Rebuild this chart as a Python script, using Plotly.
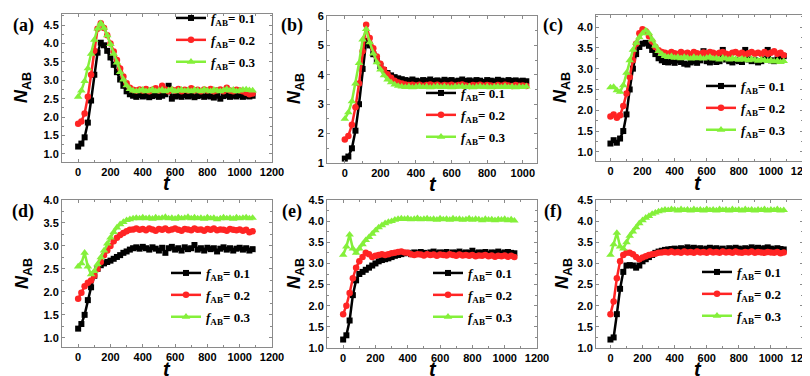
import plotly.graph_objects as go

W, H = 810, 376

# ---------------- data (t step = 20) ----------------
T_A = list(range(0, 1081, 20))   # 55 points
T_B = list(range(0, 1021, 20))   # 52 points
T_C = list(range(0, 1081, 20))
T_D = list(range(0, 1081, 20))
T_E = list(range(0, 1061, 20))   # 54 points
T_F = list(range(0, 1081, 20))

A_01 = [1.20, 1.28, 1.45, 1.85, 2.45, 3.15, 3.75, 4.02, 3.95, 3.80,
        3.62, 3.42, 3.22, 3.02, 2.85, 2.70, 2.62, 2.58, 2.55, 2.60,
        2.56, 2.58, 2.54, 2.57, 2.60, 2.55, 2.58, 2.62, 2.85, 2.50,
        2.56, 2.58, 2.55, 2.60, 2.56, 2.58, 2.54, 2.57, 2.60, 2.55,
        2.58, 2.56, 2.53, 2.58, 2.50, 2.57, 2.60, 2.55, 2.58, 2.56,
        2.60, 2.55, 2.58, 2.56, 2.58]
A_02 = [1.82, 1.88, 2.10, 2.55, 3.15, 3.80, 4.40, 4.55, 4.42, 4.22,
        4.00, 3.78, 3.55, 3.32, 3.10, 2.92, 2.80, 2.74, 2.72, 2.75,
        2.72, 2.76, 2.70, 2.74, 2.78, 2.72, 2.85, 2.75, 2.70, 2.74,
        2.72, 2.76, 2.70, 2.74, 2.72, 2.78, 2.72, 2.74, 2.70, 2.75,
        2.72, 2.76, 2.70, 2.73, 2.75, 2.70, 2.80, 2.72, 2.70, 2.74,
        2.72, 2.70, 2.66, 2.62, 2.64]
A_03 = [2.55, 2.72, 2.98, 3.32, 3.72, 4.10, 4.40, 4.55, 4.42, 4.22,
        3.98, 3.72, 3.48, 3.22, 3.02, 2.86, 2.76, 2.72, 2.70, 2.72,
        2.74, 2.70, 2.72, 2.75, 2.70, 2.72, 2.74, 2.70, 2.73, 2.75,
        2.70, 2.72, 2.74, 2.71, 2.73, 2.70, 2.74, 2.72, 2.70, 2.75,
        2.72, 2.70, 2.74, 2.72, 2.70, 2.73, 2.76, 2.72, 2.74, 2.70,
        2.72, 2.74, 2.75, 2.73, 2.72]

B_01 = [1.15, 1.22, 1.50, 2.10, 3.00, 4.20, 5.15, 5.00, 4.70, 4.48,
        4.30, 4.16, 4.06, 3.98, 3.92, 3.88, 3.85, 3.82, 3.80, 3.84,
        3.80, 3.78, 3.82, 3.80, 3.84, 3.79, 3.81, 3.78, 3.83, 3.80,
        3.82, 3.78, 3.80, 3.84, 3.79, 3.81, 3.78, 3.82, 3.80, 3.76,
        3.82, 3.80, 3.78, 3.83, 3.80, 3.78, 3.82, 3.79, 3.81, 3.78,
        3.80, 3.78]
B_02 = [1.80, 1.92, 2.30, 2.90, 3.70, 4.80, 5.70, 5.25, 4.90, 4.62,
        4.38, 4.18, 4.02, 3.90, 3.80, 3.74, 3.70, 3.67, 3.65, 3.66,
        3.64, 3.66, 3.63, 3.65, 3.67, 3.64, 3.66, 3.63, 3.65, 3.64,
        3.66, 3.63, 3.65, 3.67, 3.64, 3.62, 3.65, 3.64, 3.66, 3.63,
        3.65, 3.64, 3.62, 3.65, 3.63, 3.66, 3.64, 3.62, 3.65, 3.63,
        3.64, 3.62]
B_03 = [2.50, 2.72, 3.10, 3.70, 4.40, 5.20, 5.55, 5.10, 4.72, 4.42,
        4.18, 3.98, 3.84, 3.74, 3.67, 3.62, 3.60, 3.58, 3.60, 3.57,
        3.59, 3.61, 3.58, 3.60, 3.57, 3.59, 3.61, 3.58, 3.60, 3.58,
        3.57, 3.60, 3.59, 3.61, 3.58, 3.60, 3.57, 3.59, 3.61, 3.58,
        3.60, 3.57, 3.59, 3.60, 3.58, 3.61, 3.58, 3.60, 3.57, 3.59,
        3.58, 3.60]

C_01 = [1.20, 1.28, 1.22, 1.32, 1.50, 1.90, 2.50, 3.00, 3.35, 3.52,
        3.60, 3.62, 3.55, 3.45, 3.35, 3.25, 3.20, 3.16, 3.15, 3.18,
        3.14, 3.20, 3.16, 3.12, 3.10, 3.15, 3.18, 3.14, 3.20, 3.42,
        3.18, 3.15, 3.20, 3.16, 3.18, 3.45, 3.22, 3.18, 3.15, 3.20,
        3.18, 3.16, 3.45, 3.22, 3.18, 3.20, 3.15, 3.18, 3.22, 3.45,
        3.20, 3.18, 3.22, 3.25, 3.30]
C_02 = [1.85, 1.90, 1.82, 1.88, 2.10, 2.40, 2.80, 3.20, 3.60, 3.85,
        3.95, 3.90, 3.78, 3.65, 3.52, 3.44, 3.40, 3.38, 3.36, 3.40,
        3.37, 3.35, 3.40, 3.36, 3.38, 3.34, 3.40, 3.37, 3.35, 3.39,
        3.36, 3.40, 3.38, 3.35, 3.38, 3.40, 3.36, 3.34, 3.38, 3.40,
        3.36, 3.38, 3.34, 3.37, 3.40, 3.36, 3.38, 3.35, 3.40, 3.36,
        3.38, 3.42, 3.36, 3.38, 3.32]
C_03 = [2.55, 2.56, 2.48, 2.44, 2.60, 2.90, 3.20, 3.45, 3.62, 3.75,
        3.85, 3.92, 3.85, 3.70, 3.55, 3.42, 3.35, 3.30, 3.28, 3.30,
        3.26, 3.28, 3.25, 3.28, 3.26, 3.24, 3.28, 3.25, 3.27, 3.24,
        3.26, 3.28, 3.24, 3.25, 3.22, 3.26, 3.24, 3.22, 3.25, 3.23,
        3.21, 3.24, 3.22, 3.20, 3.23, 3.21, 3.19, 3.22, 3.20, 3.18,
        3.20, 3.17, 3.19, 3.16, 3.18]

D_01 = [1.20, 1.30, 1.50, 1.82, 2.10, 2.35, 2.50, 2.58, 2.62, 2.65,
        2.68, 2.72, 2.76, 2.80, 2.85, 2.88, 2.92, 2.95, 2.97, 2.94,
        2.98, 2.95, 2.92, 2.97, 2.94, 2.90, 2.96, 2.85, 2.95, 2.98,
        2.92, 2.95, 2.90, 2.97, 2.93, 2.95, 3.02, 2.92, 2.95, 2.90,
        2.96, 2.93, 2.95, 2.88, 2.94, 2.97, 2.92, 2.95, 2.90, 2.94,
        2.96, 2.92, 2.95, 2.90, 2.93]
D_02 = [1.85, 1.98, 2.12, 2.20, 2.25, 2.35, 2.50, 2.65, 2.80, 2.90,
        3.00, 3.10, 3.18, 3.24, 3.28, 3.32, 3.35, 3.36, 3.38, 3.35,
        3.37, 3.34, 3.38, 3.36, 3.33, 3.37, 3.35, 3.38, 3.34, 3.36,
        3.38, 3.35, 3.33, 3.37, 3.36, 3.34, 3.38, 3.35, 3.36, 3.33,
        3.37, 3.35, 3.38, 3.34, 3.36, 3.35, 3.33, 3.37, 3.35, 3.34,
        3.36, 3.33, 3.35, 3.30, 3.32]
D_03 = [2.55, 2.62, 2.85, 2.55, 2.38, 2.45, 2.60, 2.75, 2.90, 3.05,
        3.18, 3.30, 3.40, 3.47, 3.52, 3.56, 3.58, 3.60, 3.61, 3.60,
        3.62, 3.60, 3.61, 3.59, 3.62, 3.60, 3.61, 3.63, 3.60, 3.61,
        3.59, 3.62, 3.60, 3.61, 3.63, 3.60, 3.62, 3.60, 3.61, 3.59,
        3.62, 3.60, 3.61, 3.58, 3.60, 3.62, 3.60, 3.61, 3.59, 3.62,
        3.60, 3.61, 3.62, 3.60, 3.61]

E_01 = [1.20, 1.30, 1.65, 2.25, 2.60, 2.75, 2.80, 2.85, 2.90, 2.95,
        3.00, 3.05, 3.08, 3.10, 3.12, 3.15, 3.18, 3.20, 3.22, 3.24,
        3.25, 3.22, 3.26, 3.24, 3.27, 3.25, 3.23, 3.26, 3.28, 3.24,
        3.26, 3.25, 3.27, 3.23, 3.26, 3.25, 3.28, 3.24, 3.26, 3.25,
        3.30, 3.24, 3.26, 3.25, 3.27, 3.23, 3.26, 3.25, 3.28, 3.24,
        3.26, 3.27, 3.25, 3.24]
E_02 = [1.80, 2.00, 2.30, 2.65, 2.90, 3.05, 3.15, 3.25, 3.22, 3.15,
        3.18, 3.20, 3.22, 3.20, 3.22, 3.24, 3.25, 3.27, 3.28, 3.26,
        3.25, 3.22, 3.20, 3.22, 3.21, 3.19, 3.22, 3.20, 3.21, 3.18,
        3.21, 3.20, 3.19, 3.22, 3.20, 3.18, 3.21, 3.19, 3.20, 3.18,
        3.20, 3.17, 3.19, 3.18, 3.20, 3.17, 3.19, 3.16, 3.18, 3.17,
        3.19, 3.16, 3.18, 3.15]
E_03 = [3.20, 3.40, 3.68, 3.35, 3.25, 3.35, 3.45, 3.55, 3.62, 3.70,
        3.78, 3.85, 3.90, 3.95, 3.98, 4.00, 4.03, 4.05, 4.06, 4.05,
        4.06, 4.04, 4.05, 4.07, 4.04, 4.05, 4.06, 4.04, 4.05, 4.03,
        4.06, 4.04, 4.05, 4.03, 4.06, 4.04, 4.05, 4.03, 4.04, 4.06,
        4.03, 4.05, 4.04, 4.02, 4.05, 4.03, 4.04, 4.02, 4.04, 4.03,
        4.05, 4.02, 4.04, 4.01]

F_01 = [1.20, 1.25, 1.80, 2.40, 2.80, 2.95, 2.96, 2.95, 2.90, 2.95,
        3.05, 3.10, 3.15, 3.20, 3.25, 3.28, 3.30, 3.32, 3.33, 3.34,
        3.35, 3.33, 3.36, 3.34, 3.38, 3.35, 3.37, 3.34, 3.36, 3.33,
        3.35, 3.37, 3.34, 3.36, 3.33, 3.35, 3.30, 3.36, 3.34, 3.37,
        3.35, 3.33, 3.36, 3.34, 3.38, 3.35, 3.37, 3.34, 3.36, 3.38,
        3.35, 3.33, 3.36, 3.34, 3.33]
F_02 = [1.80, 2.10, 2.65, 3.05, 3.20, 3.25, 3.25, 3.22, 3.15, 3.10,
        3.14, 3.17, 3.20, 3.22, 3.23, 3.25, 3.26, 3.27, 3.26, 3.28,
        3.26, 3.27, 3.25, 3.28, 3.26, 3.27, 3.25, 3.28, 3.26, 3.27,
        3.25, 3.28, 3.26, 3.27, 3.25, 3.28, 3.26, 3.27, 3.25, 3.28,
        3.26, 3.25, 3.27, 3.26, 3.28, 3.25, 3.27, 3.26, 3.25, 3.27,
        3.26, 3.25, 3.27, 3.24, 3.26]
F_03 = [3.20, 3.45, 3.72, 3.40, 3.35, 3.50, 3.65, 3.75, 3.85, 3.95,
        4.02, 4.08, 4.12, 4.17, 4.20, 4.23, 4.25, 4.27, 4.26, 4.28,
        4.27, 4.25, 4.28, 4.26, 4.27, 4.25, 4.28, 4.26, 4.27, 4.25,
        4.28, 4.26, 4.27, 4.25, 4.28, 4.26, 4.27, 4.25, 4.28, 4.26,
        4.27, 4.25, 4.28, 4.26, 4.27, 4.25, 4.27, 4.26, 4.28, 4.25,
        4.27, 4.26, 4.28, 4.25, 4.26]

SERIES_NAMES = ["0.1", "0.2", "0.3"]
PANEL_LABELS = ["(a)", "(b)", "(c)", "(d)", "(e)", "(f)"]
X_TICKS = [0, 200, 400, 600, 800, 1000, 1200]
Y_TICKS_A = [1.0, 1.5, 2.0, 2.5, 3.0, 3.5, 4.0, 4.5]
Y_TICKS_B = [1, 2, 3, 4, 5, 6]
Y_TICKS_C = [1.0, 1.5, 2.0, 2.5, 3.0, 3.5, 4.0]
Y_TICKS_D = [1.0, 1.5, 2.0, 2.5, 3.0, 3.5, 4.0]
Y_TICKS_E = [1.0, 1.5, 2.0, 2.5, 3.0, 3.5, 4.0, 4.5]
Y_TICKS_F = [1.0, 1.5, 2.0, 2.5, 3.0, 3.5, 4.0, 4.5]

# ---------------- styling / layout ----------------
COLORS = ["#000000", "#FF2424", "#84F03A"]
SYMBOLS = ["square", "circle", "triangle-up"]
MSIZES = [6, 6.5, 7.5]

panels = [
    dict(t=T_A, ys=[A_01, A_02, A_03], box=(54, 264, 6, 154), xr=[-100, 1200], yr=[0.78, 4.8],
         yt=Y_TICKS_A, yf=".1f", leg=(163, -5), lab=(15, 17), nab=(15, 80), tt=(159, 175)),
    dict(t=T_B, ys=[B_01, B_02, B_03], box=(319, 529, 8, 155), xr=[-100, 1080], yr=[1, 6],
         yt=Y_TICKS_B, yf="d", leg=(413, 70), lab=(284, 17), nab=(287, 81), tt=(425, 176)),
    dict(t=T_C, ys=[C_01, C_02, C_03], box=(588, 795, 7, 153), xr=[-90, 1200], yr=[0.78, 4.29],
         yt=Y_TICKS_C, yf=".1f", leg=(693, 63), lab=(545, 17), nab=(554, 80), tt=(690, 175)),
    dict(t=T_D, ys=[D_01, D_02, D_03], box=(54, 264, 192, 339), xr=[-100, 1200], yr=[0.8, 4.0],
         yt=Y_TICKS_D, yf=".1f", leg=(158, 250), lab=(15, 203), nab=(15, 266), tt=(159, 361)),
    dict(t=T_E, ys=[E_01, E_02, E_03], box=(319, 529, 192, 340), xr=[-100, 1200], yr=[1.0, 4.5],
         yt=Y_TICKS_E, yf=".1f", leg=(420, 250), lab=(284, 203), nab=(287, 266), tt=(425, 361)),
    dict(t=T_F, ys=[F_01, F_02, F_03], box=(588, 795, 192, 340), xr=[-90, 1200], yr=[1.0, 4.5],
         yt=Y_TICKS_F, yf=".1f", leg=(689, 249), lab=(545, 203), nab=(555, 266), tt=(690, 361)),
]

fig = go.Figure()
AX_COLOR = "#8a8a8a"
tickfont = dict(family="Liberation Sans, Arial", size=11, color="black", weight="bold")
annotations = []
layout = {}

for p_i, p in enumerate(panels):
    n = p_i + 1
    xa = "x" if n == 1 else f"x{n}"
    ya = "y" if n == 1 else f"y{n}"
    lg = "legend" if n == 1 else f"legend{n}"
    for s_i in range(3):
        fig.add_trace(go.Scatter(
            x=p["t"], y=p["ys"][s_i], xaxis=xa, yaxis=ya, legend=lg,
            legendgroup=f"p{n}s{s_i}",
            mode="lines+markers",
            name=f"<b><i>f</i><sub>AB</sub>= {SERIES_NAMES[s_i]}</b>",
            line=dict(color=COLORS[s_i], width=2.5),
            marker=dict(symbol=SYMBOLS[s_i], size=MSIZES[s_i], color=COLORS[s_i],
                        line=dict(width=0)),
        ))
    x0, x1, y0, y1 = p["box"]
    common = dict(showline=True, linecolor=AX_COLOR, linewidth=1, mirror="ticks",
                  ticks="inside", ticklen=3, tickcolor=AX_COLOR, showgrid=False,
                  zeroline=False, tickfont=tickfont, automargin=False)
    layout["xaxis" if n == 1 else f"xaxis{n}"] = dict(
        domain=[x0 / W, x1 / W], anchor=ya, range=p["xr"], tickvals=X_TICKS,
        minor=dict(dtick=100, tick0=0, ticks="inside", ticklen=2, tickcolor=AX_COLOR),
        **common)
    layout["yaxis" if n == 1 else f"yaxis{n}"] = dict(
        domain=[1 - y1 / H, 1 - y0 / H], anchor=xa, range=p["yr"], tickvals=p["yt"],
        tickformat=p["yf"],
        minor=dict(dtick=(0.5 if p["yf"] == "d" else 0.25), tick0=0, ticks="inside",
                   ticklen=2, tickcolor=AX_COLOR),
        **common)
    lx, ly = p["leg"]
    layout[lg] = dict(x=lx / W, y=1 - ly / H, xanchor="left", yanchor="top",
                      bgcolor="rgba(0,0,0,0)", borderwidth=0,
                      font=dict(family="Liberation Serif, Times New Roman", size=13, color="black"),
                      itemwidth=30, tracegroupgap=2)
    annotations.append(dict(x=p["lab"][0] / W, y=1 - p["lab"][1] / H, xref="paper", yref="paper",
                            xanchor="center", yanchor="middle",
                            text=f"<b>{PANEL_LABELS[p_i]}</b>", showarrow=False,
                            font=dict(family="Liberation Serif, Times New Roman", size=18, color="black")))
    annotations.append(dict(x=p["nab"][0] / W, y=1 - p["nab"][1] / H, xref="paper", yref="paper",
                            xanchor="center", yanchor="middle",
                            text="<b><i>N</i><sub>AB</sub></b>", showarrow=False, textangle=-90,
                            font=dict(family="Liberation Sans, Arial", size=18, color="black")))
    annotations.append(dict(x=p["tt"][0] / W, y=1 - p["tt"][1] / H, xref="paper", yref="paper",
                            xanchor="center", yanchor="middle",
                            text="<b><i>t</i></b>", showarrow=False,
                            font=dict(family="Liberation Sans, Arial", size=20, color="black")))

fig.update_layout(
    width=W, height=H, margin=dict(l=0, r=0, t=0, b=0, autoexpand=False),
    paper_bgcolor="white", plot_bgcolor="white",
    showlegend=True, annotations=annotations, **layout,
)

fig.write_html("out.html")
